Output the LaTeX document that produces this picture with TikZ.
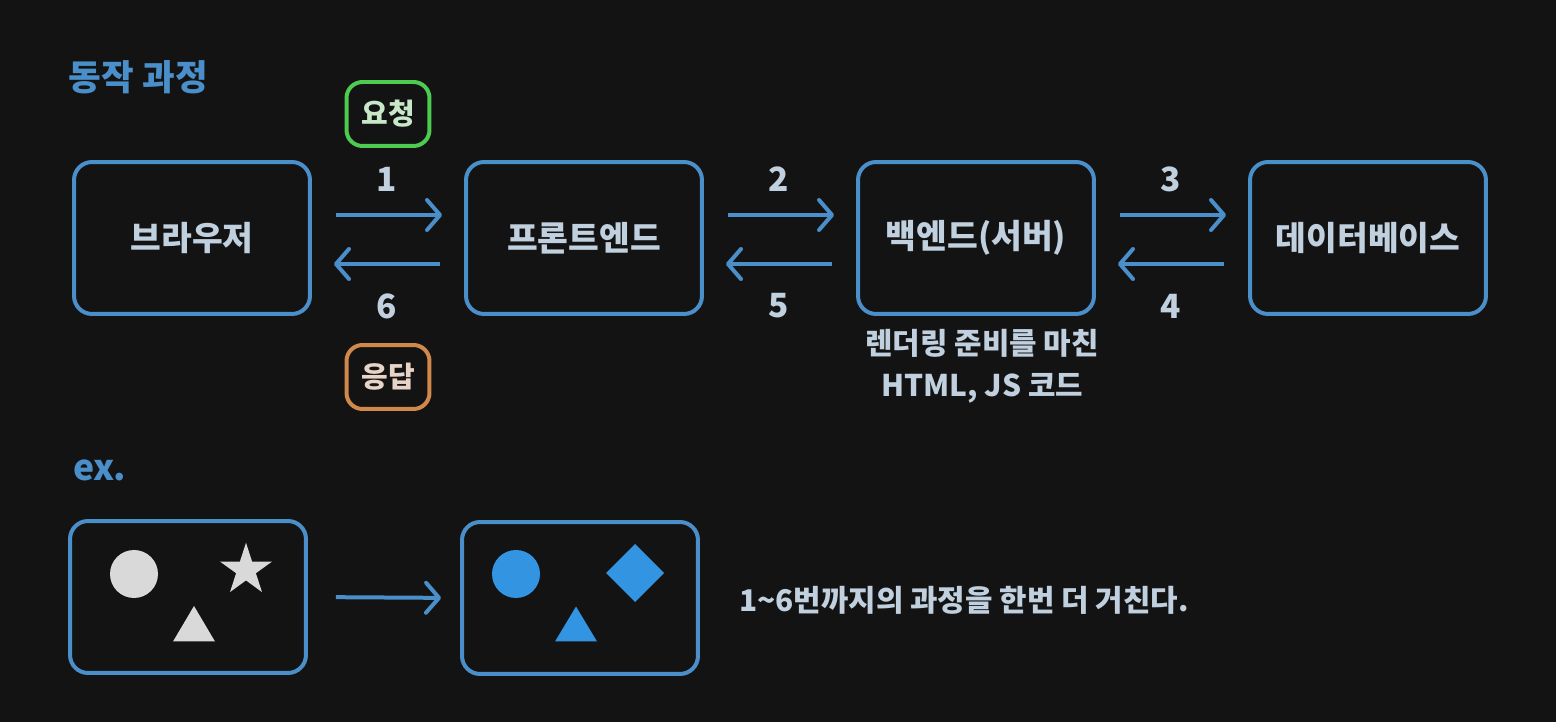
\documentclass[tikz,border=0pt]{standalone}
\usepackage{fontspec}
\setmainfont{Noto Sans CJK KR}
\usepackage{xcolor}
\usepackage{tikz}
\usetikzlibrary{arrows.meta,positioning}

\definecolor{bgdark}{HTML}{131313}
\definecolor{lineblue}{HTML}{4A8FC9}
\definecolor{textlight}{HTML}{C0D0DE}
\definecolor{reqgreen}{HTML}{4CCB50}
\definecolor{reqtext}{HTML}{C8E6C8}
\definecolor{resorange}{HTML}{D0894A}
\definecolor{restext}{HTML}{E8D4C6}
\definecolor{shapegray}{HTML}{D9D9D9}
\definecolor{shapeblue}{HTML}{3394E1}

\begin{document}
\begin{tikzpicture}[x=0.02cm, y=-0.02cm,
    every node/.style={font=\bfseries, text=textlight, inner sep=0, outer sep=0},
    stage/.style={draw=lineblue, line width=0.08cm, rounded corners=0.36cm,
        minimum width=4.72cm, minimum height=3.04cm,
        font=\bfseries\fontsize{19}{22}\selectfont},
    tag/.style={line width=0.08cm, rounded corners=0.32cm,
        minimum width=1.66cm, minimum height=1.28cm,
        font=\bfseries\fontsize{16.5}{19}\selectfont},
    num/.style={font=\bfseries\fontsize{19}{22}\selectfont},
    flow/.style={draw=lineblue, line width=0.08cm,
        -{Straight Barb[length=0.26cm, width=0.6cm, line cap=round, line join=round]},
        shorten <=0.52cm, shorten >=0.48cm},
    heading/.style={anchor=west, text=lineblue, font=\bfseries\fontsize{20.2}{23}\selectfont}]
    % Background and page size
    \fill[bgdark] (0,0) rectangle (1556,722);
    \useasboundingbox (0,0) rectangle (1556,722);

    % Title
    \node[heading] (title) at (69,77) {동작 과정};

    % Stages
    \node[stage] (browser) at (192,238) {브라우저};
    \node[stage] (front) at (584,238) {프론트엔드};
    \node[stage] (back) at (976,238) {백엔드(서버)};
    \node[stage] (db) at (1368,238) {데이터베이스};

    % Request / response tags
    \node[tag, draw=reqgreen, text=reqtext] (req) at (388,114) {요청};
    \node[tag, draw=resorange, text=restext] (res) at (388,377) {응답};

    % Arrows between stages
    \draw[flow] ([yshift=0.46cm]browser.east) -- ([yshift=0.46cm]front.west);
    \draw[flow] ([yshift=-0.52cm]front.west) -- ([yshift=-0.52cm]browser.east);
    \draw[flow] ([yshift=0.46cm]front.east) -- ([yshift=0.46cm]back.west);
    \draw[flow] ([yshift=-0.52cm]back.west) -- ([yshift=-0.52cm]front.east);
    \draw[flow] ([yshift=0.46cm]back.east) -- ([yshift=0.46cm]db.west);
    \draw[flow] ([yshift=-0.52cm]db.west) -- ([yshift=-0.52cm]back.east);

    % Step numbers
    \node[num] (n1) at (387,179) {1};
    \node[num] (n6) at (387,306) {6};
    \node[num] (n2) at (779,179) {2};
    \node[num] (n5) at (779,306) {5};
    \node[num] (n3) at (1171,179) {3};
    \node[num] (n4) at (1171,306) {4};

    % Note under the backend
    \node[align=center, font=\bfseries\fontsize{17}{23.9}\selectfont] (note) at (982,366)
        {렌더링 준비를 마친\\HTML, JS 코드};

    % Example
    \node[heading] (ex) at (73,470) {ex.};
    \node[stage] (before) at (188,597) {};
    \node[stage] (after) at (580,598) {};
    \draw[flow, shorten <=0.6cm, shorten >=0.42cm] (before.east) -- (after.west);

    % Shapes before
    \fill[shapegray] (134,574) circle (24);
    \fill[shapegray] plot coordinates {(246,542.7) (252.1,561.6) (272,561.6) (255.9,573.2)
        (262,592.1) (246,580.4) (230,592.1) (236.1,573.2) (220,561.6) (239.9,561.6)} -- cycle;
    \fill[shapegray] (194,606) -- (215,641.5) -- (173,641.5) -- cycle;

    % Shapes after
    \fill[shapeblue] (516,574) circle (24);
    \fill[shapeblue] (635,544) -- (664,573) -- (635,602) -- (606,573) -- cycle;
    \fill[shapeblue] (576,606.5) -- (597,641.5) -- (555,641.5) -- cycle;

    \node[anchor=west, font=\bfseries\fontsize{17}{20}\selectfont] (again) at (739,600)
        {1\textasciitilde6번까지의 과정을 한번 더 거친다.};
\end{tikzpicture}
\end{document}
